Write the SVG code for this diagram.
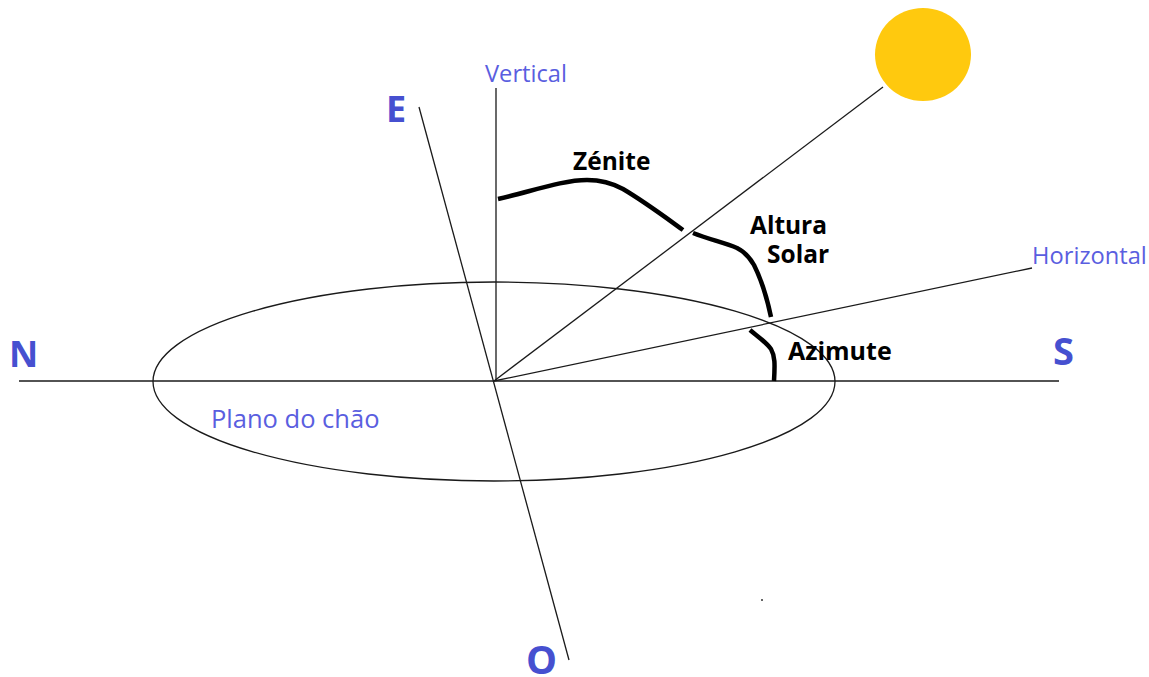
<svg xmlns="http://www.w3.org/2000/svg" width="1149" height="677" viewBox="0 0 1149 677">
<style>
.l{stroke:#1a1a1a;stroke-width:1.3;fill:none}
.a{stroke:#000;stroke-width:4.500;fill:none;stroke-linejoin:round}
text{font-family:"Open Sans","Noto Sans","DejaVu Sans",sans-serif}
.c{font-size:36px;font-weight:700;fill:#4650d0}
.b{font-size:23.700px;fill:#5a5ee0}
.k{font-size:24.500px;font-weight:700;fill:#000}
</style>
<rect width="1149" height="677" fill="#fff"/>
<g id="connectors">
<line class="l" x1="19" y1="381" x2="1059" y2="381"/>
<line class="l" x1="496" y1="88" x2="496" y2="381"/>
<line class="l" x1="419" y1="107" x2="569" y2="660"/>
<line class="l" x1="494" y1="381" x2="883" y2="87"/>
<line class="l" x1="494" y1="381" x2="1032" y2="268"/>
<ellipse class="l" cx="494" cy="381.500" rx="341" ry="99.500"/>
</g>
<g id="arcs">
<path class="a" d="M498 199C530 192 562 180 587 180C602 180 612 183 623 189C645 202 665 217 683 230"/>
<path class="a" d="M693 233C708 239 725 243 737 248C745 252 750 258 754 265C762 281 767 298 771 317"/>
<path class="a" d="M750 330C757 336 765 341 771 349C775 356 775 364 774 381"/>
</g>
<g id="sun"><ellipse cx="923" cy="54.500" rx="48" ry="46.500" fill="#ffc90e"/></g>
<g id="labels">
<text class="c" x="9" y="367">N</text>
<text class="c" x="1053" y="365" style="font-size:38px">S</text>
<text class="c" x="386" y="122">E</text>
<text class="c" x="526" y="674" style="font-size:39px">O</text>
<text class="b" x="485" y="82">Vertical</text>
<text class="b" x="1032" y="264">Horizontal</text>
<text class="b" x="211" y="428" style="font-size:25.500px">Plano do chão</text>
<text class="k" x="573" y="170">Zénite</text>
<text class="k" x="750" y="234">Altura</text>
<text class="k" x="767" y="263">Solar</text>
<text class="k" x="788" y="360" style="font-size:25px">Azimute</text>
</g>
<circle id="speck" cx="762" cy="600" r="1" fill="#333"/>
</svg>
